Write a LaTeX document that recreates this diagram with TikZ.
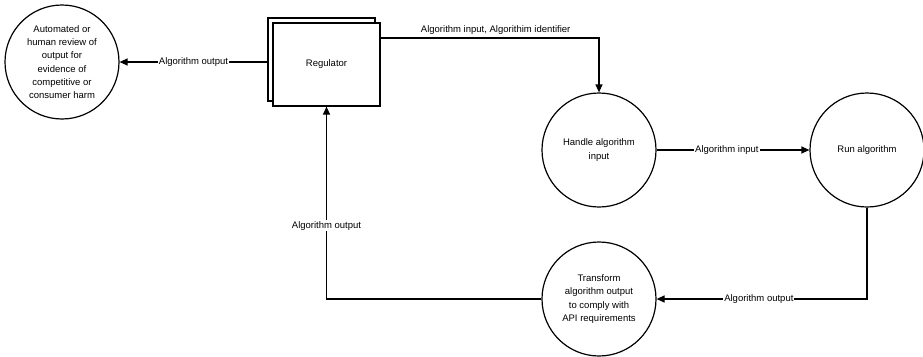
\documentclass[tikz,border=0pt]{standalone}
\usepackage{fontspec}
\setmainfont{Liberation Sans}
\usetikzlibrary{arrows.meta}
\begin{document}
\begin{tikzpicture}[x=1pt,y=-1pt,
  every node/.style={font=\fontsize{9.5}{13.3}\selectfont, align=center},
  proc/.style={circle, draw, line width=1.2pt, minimum size=114pt, inner sep=0pt},
  regbox/.style={draw, line width=1.2pt, fill=white, minimum width=107pt, minimum height=83pt, inner sep=0pt},
  arr/.style={line width=1.2pt, -{Triangle[length=8pt,width=7pt]}},
  lbl/.style={fill=white, inner sep=1pt}]
\useasboundingbox (0,0) rectangle (923,356);
\node[proc] (review) at (62,62) {Automated or\\human review of\\output for\\evidence of\\competitive or\\consumer harm};
\node[regbox] (regback) at (321.5,59.5) {};
\node[regbox] (reg) at (326.5,64.5) {Regulator};
\node[proc] (handle) at (599,150) {Handle algorithm\\input};
\node[proc] (run) at (867,150) {Run algorithm};
\node[proc] (transform) at (599,299) {Transform\\algorithm output\\to comply with\\API requirements};
\draw[arr] (regback.west |- review.east) -- node[lbl]{Algorithm output} (review.east);
\draw[arr] ([yshift=26.5pt]reg.east) -| node[pos=0.5, anchor=south east, xshift=-26pt, yshift=1pt, inner sep=2pt]{Algorithm input, Algorithim identifier} (handle.north);
\draw[arr] (handle.east) -- node[lbl, pos=0.46]{Algorithm input} (run.west);
\draw[arr] (run.south) |- node[lbl, pos=0.757]{Algorithm output} (transform.east);
\draw[arr] (transform.west) -| node[lbl, pos=0.69]{Algorithm output} (reg.south);
\end{tikzpicture}
\end{document}
